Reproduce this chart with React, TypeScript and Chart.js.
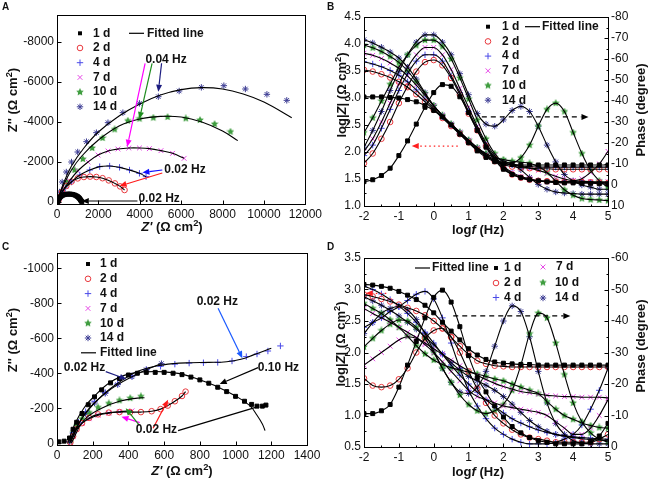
import React, { useEffect, useRef } from "react";
import { Chart, registerables } from "chart.js";
Chart.register(...registerables);

const FONT = "'Liberation Sans', Arial, Helvetica, sans-serif";

// ---------- colours ----------
const COL: Record<string, string> = {
  d1: "#000000",
  d2: "#e8383d",
  d4: "#4a4ae8",
  d7: "#e64ae6",
  d10: "#3f9d3f",
  d14: "#3d3d94",
};

// ---------- tick labels ----------
const A_XT = [0, 2000, 4000, 6000, 8000, 10000, 12000];
const A_YT = [0, -2000, -4000, -6000, -8000];
const B_XT = [-2, -1, 0, 1, 2, 3, 4, 5];
const B_YT = [1.0, 1.5, 2.0, 2.5, 3.0, 3.5, 4.0, 4.5];
const B_Y1T = [-80, -70, -60, -50, -40, -30, -20, -10, 0, 10];
const C_XT = [0, 200, 400, 600, 800, 1000, 1200, 1400];
const C_YT = [0, -200, -400, -600, -800, -1000];
const D_XT = [-2, -1, 0, 1, 2, 3, 4, 5];
const D_YT = [0.5, 1.0, 1.5, 2.0, 2.5, 3.0, 3.5];
const D_Y1T = [-60, -50, -40, -30, -20, -10, 0];

// ---------- Panel A (Nyquist) ----------
const A_1D_RE = [30, 50, 80, 120, 170, 230, 300, 380, 460, 540, 620, 700, 780, 860, 930, 990, 1040, 1080, 1110, 1140, 1170, 1200];
const A_1D_IM = [0, -60, -130, -200, -260, -310, -345, -372, -388, -395, -395, -388, -372, -345, -310, -272, -230, -188, -145, -100, -55, -15];
const A_2D_RE = [60, 120, 250, 450, 700, 1000, 1300, 1600, 1900, 2200, 2500, 2800, 3050, 3264];
const A_2D_IM = [-50, -250, -500, -800, -1020, -1180, -1250, -1270, -1250, -1190, -1080, -930, -780, -600];
const A_4D_RE = [40, 80, 150, 250, 400, 700, 1104, 1584, 2064, 2544, 3024, 3504, 3984, 4304];
const A_4D_IM = [-100, -200, -350, -500, -700, -1000, -1350, -1600, -1767, -1800, -1733, -1600, -1433, -1267];
const A_7D_RE = [40, 100, 200, 300, 600, 1000, 1500, 1984, 2464, 2944, 3472, 3984, 4464, 5024, 5584, 6144];
const A_7D_IM = [-60, -200, -420, -600, -1050, -1550, -2000, -2350, -2550, -2650, -2700, -2700, -2667, -2567, -2433, -2183];
const A_10D_RE = [50, 250, 500, 850, 1250, 1700, 2200, 2784, 3424, 3984, 4656, 5344, 6224, 6912, 7616, 8384];
const A_10D_IM = [-100, -500, -1000, -1600, -2150, -2700, -3200, -3633, -4067, -4167, -4217, -4250, -4183, -4100, -3900, -3517];
const A_10F_RE = [0, 300, 700, 1200, 2000, 3000, 4000, 5000, 6000, 7000, 8000, 8736];
const A_10F_IM = [0, -800, -1600, -2300, -3100, -3800, -4150, -4280, -4250, -4000, -3550, -3067];
const A_14D_RE = [50, 120, 250, 450, 700, 1000, 1424, 1904, 2464, 3184, 3984, 4896, 5904, 6976, 8064, 9104, 10144, 11104];
const A_14D_IM = [-100, -500, -1000, -1500, -2000, -2500, -3017, -3467, -3967, -4467, -4933, -5267, -5550, -5733, -5817, -5650, -5383, -5083];
const A_14F_RE = [0, 300, 700, 1300, 2000, 3000, 4000, 5000, 6000, 7000, 8000, 9000, 10000, 11344];
const A_14F_IM = [0, -900, -1800, -2700, -3500, -4300, -4900, -5350, -5620, -5720, -5650, -5400, -5000, -4217];

// ---------- Panel B / D (Bode) ----------
const LOGF = [-2, -1.75, -1.5, -1.25, -1, -0.75, -0.5, -0.25, 0, 0.25, 0.5, 0.75, 1, 1.25, 1.5, 1.75, 2, 2.25, 2.5, 2.75, 3, 3.25, 3.5, 3.75, 4, 4.25, 4.5, 4.75, 5];

const B_MOD_1D = [3.02, 3.02, 3.02, 3.01, 3.0, 2.97, 2.93, 2.86, 2.77, 2.65, 2.5, 2.33, 2.17, 2.02, 1.9, 1.82, 1.78, 1.77, 1.76, 1.76, 1.76, 1.76, 1.76, 1.76, 1.76, 1.76, 1.76, 1.76, 1.76];
const B_MOD_2D = [3.52, 3.49, 3.44, 3.38, 3.3, 3.2, 3.07, 2.93, 2.78, 2.63, 2.48, 2.33, 2.18, 2.04, 1.92, 1.83, 1.77, 1.73, 1.71, 1.7, 1.69, 1.69, 1.68, 1.68, 1.68, 1.68, 1.68, 1.68, 1.68];
const B_MOD_4D = [3.67, 3.63, 3.58, 3.51, 3.42, 3.3, 3.15, 2.98, 2.81, 2.65, 2.49, 2.34, 2.19, 2.05, 1.93, 1.84, 1.79, 1.76, 1.74, 1.73, 1.72, 1.72, 1.72, 1.72, 1.72, 1.72, 1.72, 1.72, 1.72];
const B_MOD_7D = [3.83, 3.79, 3.73, 3.65, 3.55, 3.41, 3.24, 3.05, 2.85, 2.68, 2.51, 2.36, 2.21, 2.07, 1.95, 1.86, 1.8, 1.76, 1.73, 1.7, 1.66, 1.61, 1.55, 1.5, 1.47, 1.46, 1.45, 1.45, 1.45];
const B_MOD_10D = [3.98, 3.93, 3.86, 3.77, 3.66, 3.5, 3.3, 3.08, 2.86, 2.68, 2.52, 2.37, 2.22, 2.08, 1.97, 1.9, 1.86, 1.83, 1.81, 1.79, 1.73, 1.62, 1.46, 1.3, 1.2, 1.14, 1.12, 1.11, 1.1];
const B_MOD_14D = [4.08, 4.02, 3.94, 3.85, 3.74, 3.57, 3.35, 3.1, 2.86, 2.68, 2.52, 2.37, 2.22, 2.08, 1.97, 1.9, 1.84, 1.77, 1.67, 1.53, 1.4, 1.31, 1.26, 1.24, 1.23, 1.22, 1.22, 1.22, 1.22];

const B_PH_1D = [-1.6, -2.5, -4.5, -8, -14, -21, -29, -37, -44, -47.8, -47, -42, -34.5, -26, -18, -12, -7.5, -5, -3.5, -2.5, -2, -1.5, -1.2, -1, -1, -0.8, -0.8, -0.6, -0.5];
const B_PH_2D = [-10.4, -15, -22, -30, -39, -47, -54, -58.5, -59.5, -57, -51, -43, -34, -26, -18.5, -12.5, -8, -5, -3.5, -2.5, -2, -1.8, -1.6, -1.5, -1.5, -1.4, -1.3, -1.2, -1];
const B_PH_4D = [-14, -19, -27, -36, -45, -53, -59, -62, -62, -59, -52, -44, -35, -27, -19, -13, -8.5, -5.5, -3.5, -2.5, -2, -1.8, -1.6, -1.5, -1.5, -1.3, -1.2, -1.1, -1];
const B_PH_7D = [-16, -22, -30, -39, -48, -56, -62, -65.5, -65.5, -62, -55, -46, -37, -28, -20, -14, -9, -6, -4, -3, -2, -1.5, -1.5, -1.5, -2, -3, -6, -10, -16];
const B_PH_10D = [-25, -32, -40, -48, -56, -62, -66.5, -69, -69, -66, -60, -51, -41, -31, -22, -15, -11, -10.5, -13, -19, -28, -36, -39, -35, -25, -15, -7, -2, 1];
const B_PH_14D = [-18, -26, -35, -45, -54, -62, -68, -71.5, -71.5, -68, -62, -53, -43, -34, -29, -28, -31, -35.5, -37.4, -35, -28, -19, -11, -5, -2, 0, 1, 2, 2];

const D_MOD_1D = [3.08, 3.07, 3.05, 3.02, 2.97, 2.91, 2.84, 2.75, 2.63, 2.48, 2.34, 2.2, 2.06, 1.96, 1.89, 1.85, 1.83, 1.82, 1.81, 1.81, 1.8, 1.8, 1.8, 1.8, 1.8, 1.8, 1.8, 1.8, 1.8];
const D_MOD_2D = [2.92, 2.89, 2.85, 2.81, 2.76, 2.71, 2.66, 2.59, 2.5, 2.38, 2.24, 2.1, 1.97, 1.87, 1.82, 1.79, 1.78, 1.77, 1.77, 1.77, 1.77, 1.77, 1.77, 1.77, 1.77, 1.77, 1.77, 1.77, 1.77];
const D_MOD_4D = [3.05, 3.0, 2.93, 2.84, 2.74, 2.62, 2.48, 2.32, 2.15, 1.97, 1.8, 1.64, 1.5, 1.37, 1.25, 1.14, 1.04, 0.95, 0.88, 0.82, 0.77, 0.73, 0.7, 0.68, 0.66, 0.65, 0.64, 0.63, 0.62];
const D_MOD_7D = [2.7, 2.62, 2.55, 2.48, 2.4, 2.32, 2.24, 2.15, 2.06, 1.97, 1.88, 1.79, 1.71, 1.64, 1.57, 1.51, 1.46, 1.42, 1.38, 1.36, 1.34, 1.32, 1.31, 1.3, 1.3, 1.29, 1.29, 1.29, 1.28];
const D_MOD_10D = [2.78, 2.7, 2.62, 2.52, 2.4, 2.26, 2.11, 1.98, 1.88, 1.81, 1.76, 1.72, 1.69, 1.66, 1.62, 1.58, 1.55, 1.5, 1.45, 1.4, 1.35, 1.22, 1.1, 1.0, 0.94, 0.88, 0.84, 0.81, 0.8];
const D_MOD_14D = [2.88, 2.82, 2.75, 2.67, 2.58, 2.48, 2.37, 2.25, 2.12, 1.98, 1.84, 1.72, 1.62, 1.55, 1.48, 1.4, 1.3, 1.18, 1.05, 0.92, 0.82, 0.75, 0.7, 0.67, 0.65, 0.63, 0.62, 0.61, 0.6];

const D_PH_1D = [-10.6, -10.6, -11.5, -13.5, -19, -26, -33.5, -41, -47.5, -49.8, -46, -38.2, -29, -22, -17.5, -13, -9.5, -6.5, -4.5, -3, -2, -1.5, -1, -1, -1, -1, -1.5, -3.5, -7.5];
const D_PH_2D = [-21.8, -19.5, -19, -19.5, -21.5, -25, -30, -34.5, -37, -37.7, -35, -30, -24, -18.5, -14, -10, -7.5, -5.5, -4, -3, -2.5, -2, -1.5, -1.5, -1.5, -1.5, -1.5, -2.5, -4];
const D_PH_4D = [-38, -39.5, -41, -43, -44.5, -46.5, -48.5, -49.4, -47, -41, -33, -25, -18, -13, -9, -6, -4, -2.5, -1.5, -1, -1, -1, -1.5, -2.5, -4, -7, -12, -18, -25];
const D_PH_7D = [-26, -28, -30, -32, -34, -35, -34.5, -32.5, -30, -27, -24, -21, -18, -16, -15, -14, -13, -12.5, -12, -11.5, -11, -10, -8, -6, -4, -4, -6, -10, -15];
const D_PH_10D = [-31.8, -34.5, -37, -39, -40.3, -40, -38, -34.5, -30, -25, -20.5, -16.5, -13.5, -11.5, -10.6, -11.5, -13.5, -18, -26, -36, -42.5, -41, -33, -23, -14, -8, -4.5, -2.5, -1.6];
const D_PH_14D = [-36, -39.5, -42.5, -44, -44.6, -43.5, -40.5, -36, -30.5, -25, -20.5, -17.5, -17, -19, -24, -32, -40, -44.8, -43, -35, -24, -14, -7.5, -4, -2, -1.2, -1, -1, -1];

// ---------- Panel C (Nyquist) ----------
const C_1D_RE = [10, 40, 70, 90, 110, 140, 175, 210, 250, 300, 350, 400, 450, 500, 550, 600, 650, 700, 750, 800, 850, 900, 950, 1000, 1050, 1090, 1120, 1150, 1170];
const C_1D_IM = [-8, -12, -30, -80, -120, -170, -220, -265, -305, -345, -370, -390, -400, -405, -405, -405, -400, -392, -378, -362, -343, -320, -295, -268, -240, -222, -212, -212, -218];
const C_1F_RE = [60, 100, 150, 200, 300, 400, 500, 600, 700, 800, 900, 1000, 1080, 1120, 1150, 1165];
const C_1F_IM = [0, -110, -200, -260, -350, -395, -408, -408, -395, -362, -322, -270, -215, -160, -110, -72];
const C_2D_RE = [75, 90, 110, 140, 180, 230, 290, 350, 410, 470, 530, 580, 620, 660, 700, 720];
const C_2D_IM = [-5, -40, -80, -115, -145, -165, -175, -178, -178, -178, -183, -195, -215, -240, -270, -295];
const C_4D_RE = [70, 90, 120, 160, 210, 270, 340, 420, 500, 580, 660, 740, 820, 900, 980, 1060, 1120, 1181, 1251];
const C_4D_IM = [-10, -60, -120, -180, -240, -290, -340, -385, -420, -440, -452, -458, -460, -462, -470, -495, -510, -527, -556];
const C_4F_RE = [70, 150, 250, 350, 450, 550, 650, 750, 850, 950, 1030, 1100, 1200];
const C_4F_IM = [0, -160, -270, -350, -410, -440, -455, -460, -462, -466, -480, -505, -543];
const C_7D_RE = [75, 90, 110, 140, 180, 230, 290, 350, 420];
const C_7D_IM = [-5, -40, -80, -115, -140, -160, -172, -180, -185];
const C_10D_RE = [75, 90, 110, 140, 180, 230, 290, 350, 410, 470];
const C_10D_IM = [-10, -60, -100, -140, -175, -205, -228, -245, -258, -268];
const C_10F_RE = [80, 150, 250, 350, 450, 490];
const C_10F_IM = [0, -130, -200, -240, -258, -260];
const C_14D_RE = [70, 90, 120, 160, 210, 270, 340, 420, 500, 585];
const C_14D_IM = [-10, -55, -110, -170, -230, -285, -335, -380, -420, -455];

// ---------- annotations (data units) ----------
type Ann = { k: "arrow" | "line" | "text"; x1: number; y1: number; x2?: number; y2?: number; ax?: string; c?: string; dash?: number[]; t?: string };
const A_ANN: Ann[] = [
  { k: "arrow", x1: 4258, y1: -6935, x2: 3394, y2: -2765, c: "#ff00ff" },
  { k: "arrow", x1: 4594, y1: -6935, x2: 3984, y2: -4150, c: "#1e8c1e" },
  { k: "arrow", x1: 5054, y1: -6935, x2: 4896, y2: -5515, c: "#1c1c80" },
  { k: "text", x1: 4272, y1: -7100, t: "0.04 Hz" },
  { k: "arrow", x1: 5088, y1: -1600, x2: 4128, y2: -1470, c: "#1010ff" },
  { k: "arrow", x1: 5088, y1: -1450, x2: 3024, y2: -800, c: "#ff1a1a" },
  { k: "text", x1: 5184, y1: -1600, t: "0.02 Hz" },
  { k: "arrow", x1: 3888, y1: -50, x2: 1200, y2: -50, c: "#000" },
  { k: "text", x1: 3936, y1: -150, t: "0.02 Hz" },
];
const B_ANN: Ann[] = [
  { k: "arrow", x1: 1.38, y1: -32.4, x2: 4.44, y2: -32.4, ax: "y1", c: "#000", dash: [5, 4] },
  { k: "arrow", x1: 0.69, y1: 2.11, x2: -0.63, y2: 2.11, ax: "y", c: "#ff2020", dash: [1.5, 3] },
];
const C_ANN: Ann[] = [
  { k: "arrow", x1: 902, y1: -771, x2: 1038, y2: -486, c: "#1a5aff" },
  { k: "text", x1: 782, y1: -809, t: "0.02 Hz" },
  { k: "arrow", x1: 1126, y1: -432, x2: 911, y2: -339, c: "#000" },
  { k: "text", x1: 1124, y1: -431, t: "0.10 Hz" },
  { k: "arrow", x1: 273, y1: -409, x2: 389, y2: -366, c: "#1c1c80" },
  { k: "text", x1: 38, y1: -431, t: "0.02 Hz" },
  { k: "line", x1: 678, y1: -72, x2: 1117, y2: -206, c: "#000" },
  { k: "arrow", x1: 538, y1: -86, x2: 622, y2: -248, c: "#ff1a1a" },
  { k: "arrow", x1: 463, y1: -118, x2: 361, y2: -152, c: "#ff00ff" },
  { k: "arrow", x1: 459, y1: -105, x2: 385, y2: -200, c: "#1e8c1e" },
  { k: "text", x1: 441, y1: -76, t: "0.02 Hz" },
];
const D_ANN: Ann[] = [
  { k: "arrow", x1: 0.56, y1: 2.58, x2: 3.92, y2: 2.58, ax: "y", c: "#000", dash: [5, 4] },
  { k: "arrow", x1: -1.36, y1: 2.94, x2: -1.95, y2: 2.94, ax: "y", c: "#ff2020", dash: [1.5, 3] },
];

// ---------- markers ----------
type Mk = { style: string; r: number; filled?: boolean };
const MK: Record<string, Mk> = {
  d1: { style: "rect", r: 2.8, filled: true },
  d2: { style: "circle", r: 2.8 },
  d4: { style: "cross", r: 3.2 },
  d7: { style: "crossRot", r: 3.4 },
  d10: { style: "fstar", r: 3.5 },
  d14: { style: "star", r: 3.2 },
};

function makeStar(color: string, size: number) {
  const c = document.createElement("canvas");
  c.width = size;
  c.height = size;
  const g = c.getContext("2d")!;
  g.fillStyle = color;
  g.beginPath();
  const cx = size / 2, cy = size / 2, R = size / 2, r = R * 0.5;
  for (let i = 0; i < 10; i++) {
    const a = -Math.PI / 2 + (i * Math.PI) / 5;
    const rr = i % 2 === 0 ? R : r;
    g.lineTo(cx + rr * Math.cos(a), cy + rr * Math.sin(a));
  }
  g.closePath();
  g.fill();
  return c;
}

function drawMark(ctx: CanvasRenderingContext2D, key: string, x: number, y: number, star: HTMLCanvasElement) {
  const m = MK[key];
  const col = COL[key];
  ctx.save();
  ctx.strokeStyle = col;
  ctx.fillStyle = col;
  ctx.lineWidth = 1;
  const r = m.r;
  const seg = (a: number, b: number, c: number, d: number) => {
    ctx.beginPath();
    ctx.moveTo(a, b);
    ctx.lineTo(c, d);
    ctx.stroke();
  };
  const dd = r * Math.SQRT1_2;
  if (m.style === "rect") {
    const s = r / Math.SQRT2;
    ctx.fillRect(x - s, y - s, 2 * s, 2 * s);
  } else if (m.style === "circle") {
    ctx.beginPath();
    ctx.arc(x, y, r, 0, Math.PI * 2);
    ctx.stroke();
  } else if (m.style === "cross") {
    seg(x - r, y, x + r, y);
    seg(x, y - r, x, y + r);
  } else if (m.style === "crossRot") {
    seg(x - dd, y - dd, x + dd, y + dd);
    seg(x - dd, y + dd, x + dd, y - dd);
  } else if (m.style === "star") {
    seg(x - r, y, x + r, y);
    seg(x, y - r, x, y + r);
    seg(x - dd, y - dd, x + dd, y + dd);
    seg(x - dd, y + dd, x + dd, y - dd);
  } else {
    ctx.drawImage(star, x - star.width / 2, y - star.height / 2);
  }
  ctx.restore();
}

function pts(xs: number[], ys: number[]) {
  return xs.map((x, i) => ({ x, y: ys[i] }));
}

function markDs(key: string, xs: number[], ys: number[], star: HTMLCanvasElement, ax = "y") {
  const m = MK[key];
  return {
    data: pts(xs, ys),
    yAxisID: ax,
    showLine: false,
    pointStyle: m.style === "fstar" ? star : m.style,
    pointRadius: m.r,
    pointBorderColor: COL[key],
    pointBackgroundColor: m.filled ? COL[key] : "rgba(0,0,0,0)",
    pointBorderWidth: 1,
    order: 2,
  };
}

function fitDs(xs: number[], ys: number[], ax = "y", mono = false) {
  return {
    data: pts(xs, ys),
    yAxisID: ax,
    showLine: true,
    pointRadius: 0,
    borderColor: "#000",
    borderWidth: 1.1,
    tension: 0.4,
    cubicInterpolationMode: mono ? "monotone" : "default",
    fill: false,
    order: 1,
  };
}

type Leg = { mk?: string; line?: boolean; t: string; mx: number; tx: number; y: number };

function drawArrow(ctx: CanvasRenderingContext2D, x1: number, y1: number, x2: number, y2: number, col: string, dash: number[] | undefined, head: boolean) {
  const ang = Math.atan2(y2 - y1, x2 - x1);
  const L = 7, W = 3;
  const ex = x2 - L * Math.cos(ang), ey = y2 - L * Math.sin(ang);
  ctx.strokeStyle = col;
  ctx.fillStyle = col;
  ctx.lineWidth = 1.2;
  ctx.setLineDash(dash || []);
  ctx.beginPath();
  ctx.moveTo(x1, y1);
  ctx.lineTo(head ? ex : x2, head ? ey : y2);
  ctx.stroke();
  ctx.setLineDash([]);
  if (head) {
    ctx.beginPath();
    ctx.moveTo(x2, y2);
    ctx.lineTo(ex + W * Math.sin(ang), ey - W * Math.cos(ang));
    ctx.lineTo(ex - W * Math.sin(ang), ey + W * Math.cos(ang));
    ctx.closePath();
    ctx.fill();
  }
}

function decor(xT: number[], yT: number[], y1T: number[] | null, minor: boolean, ann: Ann[], leg: Leg[], star: HTMLCanvasElement) {
  return {
    id: "decor",
    afterDatasetsDraw(chart: any) {
      const ctx: CanvasRenderingContext2D = chart.ctx;
      const a = chart.chartArea;
      const sx = chart.scales.x;
      ctx.save();
      // annotations
      ctx.font = `bold 12px ${FONT}`;
      ctx.textBaseline = "middle";
      ctx.textAlign = "left";
      for (const n of ann) {
        const sy = chart.scales[n.ax || "y"];
        const px1 = sx.getPixelForValue(n.x1), py1 = sy.getPixelForValue(n.y1);
        if (n.k === "text") {
          ctx.fillStyle = "#111";
          ctx.fillText(n.t || "", px1, py1);
        } else {
          const px2 = sx.getPixelForValue(n.x2), py2 = sy.getPixelForValue(n.y2);
          drawArrow(ctx, px1, py1, px2, py2, n.c || "#000", n.dash, n.k === "arrow");
        }
      }
      // frame
      const L = Math.round(a.left) + 0.5, T = Math.round(a.top) + 0.5;
      const R = Math.round(a.right) + 0.5, B = Math.round(a.bottom) + 0.5;
      ctx.strokeStyle = "#000";
      ctx.lineWidth = 1;
      ctx.strokeRect(L, T, R - L, B - T);
      const tickSet = (vals: number[]) => {
        const out: [number, number][] = [];
        vals.forEach((v, i) => {
          out.push([v, 4]);
          if (minor && i < vals.length - 1) out.push([(v + vals[i + 1]) / 2, 2]);
        });
        return out;
      };
      ctx.beginPath();
      for (const [v, len] of tickSet(xT)) {
        const p = Math.round(sx.getPixelForValue(v)) + 0.5;
        ctx.moveTo(p, B);
        ctx.lineTo(p, B - len);
      }
      for (const [v, len] of tickSet(yT)) {
        const p = Math.round(chart.scales.y.getPixelForValue(v)) + 0.5;
        ctx.moveTo(L, p);
        ctx.lineTo(L + len, p);
      }
      if (y1T) {
        for (const [v, len] of tickSet(y1T)) {
          const p = Math.round(chart.scales.y1.getPixelForValue(v)) + 0.5;
          ctx.moveTo(R, p);
          ctx.lineTo(R - len, p);
        }
      }
      ctx.stroke();
      // legend
      ctx.font = `bold 12px ${FONT}`;
      ctx.fillStyle = "#111";
      for (const it of leg) {
        const y = a.top + it.y;
        if (it.line) {
          ctx.strokeStyle = "#000";
          ctx.lineWidth = 1.2;
          ctx.beginPath();
          ctx.moveTo(a.left + it.mx, y);
          ctx.lineTo(a.left + it.mx + 15, y);
          ctx.stroke();
        } else if (it.mk) {
          drawMark(ctx, it.mk, a.left + it.mx, y, star);
        }
        ctx.fillStyle = "#111";
        ctx.fillText(it.t, a.left + it.tx, y);
      }
      ctx.restore();
    },
  };
}

function axis(min: number, max: number, ticks: number[], fmt: (v: number) => string, extra: any) {
  return {
    type: "linear",
    min,
    max,
    grid: { display: false, drawTicks: false },
    border: { display: false },
    ticks: {
      color: "#111",
      font: { family: FONT, size: 12 },
      padding: 3,
      autoSkip: false,
      maxRotation: 0,
      minRotation: 0,
      callback: (v: any) => fmt(Number(v)),
    },
    afterBuildTicks: (s: any) => {
      s.ticks = ticks.map((v) => ({ value: v }));
    },
    ...extra,
  };
}

const f1 = (v: number) => v.toFixed(1);
const f0 = (v: number) => String(v);

const DAY_KEYS = ["d1", "d2", "d4", "d7", "d10", "d14"];
const DAY_TXT = ["1 d", "2 d", "4 d", "7 d", "10 d", "14 d"];

function buildConfig(id: string, star: HTMLCanvasElement): any {
  const base = (padding: any, scales: any, datasets: any[], plugin: any) => ({
    type: "scatter",
    data: { datasets },
    options: {
      responsive: false,
      animation: false,
      devicePixelRatio: 1,
      events: [],
      layout: { padding },
      plugins: { legend: { display: false }, tooltip: { enabled: false } },
      scales,
    },
    plugins: [plugin],
  });

  if (id === "A") {
    const ds = [
      markDs("d1", A_1D_RE, A_1D_IM, star),
      markDs("d2", A_2D_RE, A_2D_IM, star),
      markDs("d4", A_4D_RE, A_4D_IM, star),
      markDs("d7", A_7D_RE, A_7D_IM, star),
      markDs("d10", A_10D_RE, A_10D_IM, star),
      markDs("d14", A_14D_RE, A_14D_IM, star),
      fitDs(A_2D_RE, A_2D_IM),
      fitDs(A_4D_RE, A_4D_IM),
      fitDs(A_7D_RE, A_7D_IM),
      fitDs(A_10F_RE, A_10F_IM),
      fitDs(A_14F_RE, A_14F_IM),
    ];
    const leg: Leg[] = DAY_KEYS.map((k, i) => ({ mk: k, t: DAY_TXT[i], mx: 23, tx: 36, y: 18.3 + i * 14.7 }));
    leg.push({ line: true, t: "Fitted line", mx: 72, tx: 90, y: 18.3 });
    return base(
      { left: 0, right: 18, top: 15, bottom: 0 },
      {
        x: axis(0, 12000, A_XT, f0, { afterFit: (s: any) => { s.height = 36; } }),
        y: axis(-9350, 100, A_YT, f0, { reverse: true, position: "left", afterFit: (s: any) => { s.width = 57; } }),
      },
      ds,
      decor(A_XT, A_YT, null, false, A_ANN, leg, star)
    );
  }
  if (id === "C") {
    const ds = [
      markDs("d1", C_1D_RE, C_1D_IM, star),
      markDs("d2", C_2D_RE, C_2D_IM, star),
      markDs("d4", C_4D_RE, C_4D_IM, star),
      markDs("d7", C_7D_RE, C_7D_IM, star),
      markDs("d10", C_10D_RE, C_10D_IM, star),
      markDs("d14", C_14D_RE, C_14D_IM, star),
      fitDs(C_1F_RE, C_1F_IM),
      fitDs(C_2D_RE, C_2D_IM),
      fitDs(C_4F_RE, C_4F_IM),
      fitDs(C_7D_RE, C_7D_IM),
      fitDs(C_10F_RE, C_10F_IM),
      fitDs(C_14D_RE, C_14D_IM),
    ];
    const leg: Leg[] = DAY_KEYS.map((k, i) => ({ mk: k, t: DAY_TXT[i], mx: 31, tx: 43, y: 11 + i * 14.8 }));
    leg.push({ line: true, t: "Fitted line", mx: 24, tx: 43, y: 11 + 6 * 14.8 });
    return base(
      { left: 0, right: 18, top: 13, bottom: 0 },
      {
        x: axis(0, 1400, C_XT, f0, { afterFit: (s: any) => { s.height = 37; } }),
        y: axis(-1087, 10, C_YT, f0, { reverse: true, position: "left", afterFit: (s: any) => { s.width = 57; } }),
      },
      ds,
      decor(C_XT, C_YT, null, false, C_ANN, leg, star)
    );
  }
  const isB = id === "B";
  const mods = isB ? [B_MOD_1D, B_MOD_2D, B_MOD_4D, B_MOD_7D, B_MOD_10D, B_MOD_14D] : [D_MOD_1D, D_MOD_2D, D_MOD_4D, D_MOD_7D, D_MOD_10D, D_MOD_14D];
  const phs = isB ? [B_PH_1D, B_PH_2D, B_PH_4D, B_PH_7D, B_PH_10D, B_PH_14D] : [D_PH_1D, D_PH_2D, D_PH_4D, D_PH_7D, D_PH_10D, D_PH_14D];
  const ds: any[] = [];
  DAY_KEYS.forEach((k, i) => {
    ds.push(markDs(k, LOGF, mods[i], star, "y"));
    ds.push(markDs(k, LOGF, phs[i], star, "y1"));
  });
  DAY_KEYS.forEach((k, i) => {
    ds.push(fitDs(LOGF, mods[i], "y", true));
    ds.push(fitDs(LOGF, phs[i], "y1", true));
  });
  let leg: Leg[];
  if (isB) {
    leg = DAY_KEYS.map((k, i) => ({ mk: k, t: DAY_TXT[i], mx: 124, tx: 138, y: 9.7 + i * 14.7 }));
    leg.push({ line: true, t: "Fitted line", mx: 161, tx: 178, y: 9.7 });
  } else {
    leg = [
      { line: true, t: "Fitted line", mx: 51, tx: 68, y: 10 },
      { mk: "d1", t: "1 d", mx: 132, tx: 140, y: 10 },
      { mk: "d2", t: "2 d", mx: 132, tx: 140, y: 25 },
      { mk: "d4", t: "4 d", mx: 132, tx: 140, y: 39.5 },
      { mk: "d7", t: "7 d", mx: 179, tx: 192, y: 9 },
      { mk: "d10", t: "10 d", mx: 179, tx: 191, y: 24.5 },
      { mk: "d14", t: "14 d", mx: 179, tx: 191, y: 40 },
    ];
  }
  const yT = isB ? B_YT : D_YT;
  const y1T = isB ? B_Y1T : D_Y1T;
  const xT = isB ? B_XT : D_XT;
  return base(
    { left: 0, right: 0, top: isB ? 17 : 18, bottom: 0 },
    {
      x: axis(-2, 5, xT, f0, { afterFit: (s: any) => { s.height = isB ? 34 : 35; } }),
      y: axis(isB ? 1.0 : 0.5, isB ? 4.5 : 3.5, yT, f1, { position: "left", afterFit: (s: any) => { s.width = 39; } }),
      y1: axis(isB ? -80 : -60, isB ? 10 : 0, y1T, f0, { position: "right", reverse: true, afterFit: (s: any) => { s.width = 42; } }),
    },
    ds,
    decor(xT, yT, y1T, true, isB ? B_ANN : D_ANN, leg, star)
  );
}

function Panel({ id, left, top, width, height }: { id: string; left: number; top: number; width: number; height: number }) {
  const ref = useRef<HTMLCanvasElement>(null);
  useEffect(() => {
    const star = makeStar(COL.d10, 8);
    const chart = new Chart(ref.current as HTMLCanvasElement, buildConfig(id, star));
    return () => chart.destroy();
  }, [id]);
  return <canvas ref={ref} width={width} height={height} style={{ position: "absolute", left, top, width, height }} />;
}

const sup = (t: string) => <sup style={{ fontSize: "0.72em", lineHeight: 0, verticalAlign: "0.45em" }}>{t}</sup>;

type TitleDef = { x: number; y: number; rot: boolean; node: React.ReactNode };
const TITLES: TitleDef[] = [
  { x: 12, y: 100, rot: true, node: <>Z'' (Ω cm{sup("2")})</> },
  { x: 172, y: 226, rot: false, node: <><i>Z'</i> (Ω cm{sup("2")})</> },
  { x: 341, y: 95, rot: true, node: <>log|<i>Z</i>| (Ω cm{sup("2")})</> },
  { x: 640, y: 110, rot: true, node: <>Phase (degree)</> },
  { x: 478, y: 229, rot: false, node: <>log<i>f</i> (Hz)</> },
  { x: 12, y: 340, rot: true, node: <>Z'' (Ω cm{sup("2")})</> },
  { x: 182, y: 470, rot: false, node: <><i>Z'</i> (Ω cm{sup("2")})</> },
  { x: 340, y: 344, rot: true, node: <>log|<i>Z</i>| (Ω cm{sup("2")})</> },
  { x: 640, y: 346, rot: true, node: <>Phase (degree)</> },
  { x: 478, y: 471, rot: false, node: <>log<i>f</i> (Hz)</> },
];

const LETTERS = [
  { t: "A", x: 2, y: 1 },
  { t: "B", x: 327, y: 1 },
  { t: "C", x: 2, y: 241 },
  { t: "D", x: 327, y: 241 },
];

export default function App() {
  return (
    <div style={{ position: "absolute", left: 0, top: 0, width: 650, height: 482, background: "#fff", fontFamily: FONT, overflow: "hidden" }}>
      <Panel id="A" left={0} top={0} width={325} height={240} />
      <Panel id="B" left={325} top={0} width={325} height={240} />
      <Panel id="C" left={0} top={240} width={325} height={242} />
      <Panel id="D" left={325} top={240} width={325} height={242} />
      {TITLES.map((t, i) => (
        <div
          key={i}
          style={{
            position: "absolute",
            left: t.x,
            top: t.y,
            transform: `translate(-50%, -50%)${t.rot ? " rotate(-90deg)" : ""}`,
            whiteSpace: "nowrap",
            fontWeight: "bold",
            fontSize: 13,
            lineHeight: "15px",
            color: "#111",
          }}
        >
          {t.node}
        </div>
      ))}
      {LETTERS.map((l) => (
        <div key={l.t} style={{ position: "absolute", left: l.x, top: l.y, fontWeight: "bold", fontSize: 10, color: "#111" }}>
          {l.t}
        </div>
      ))}
    </div>
  );
}
